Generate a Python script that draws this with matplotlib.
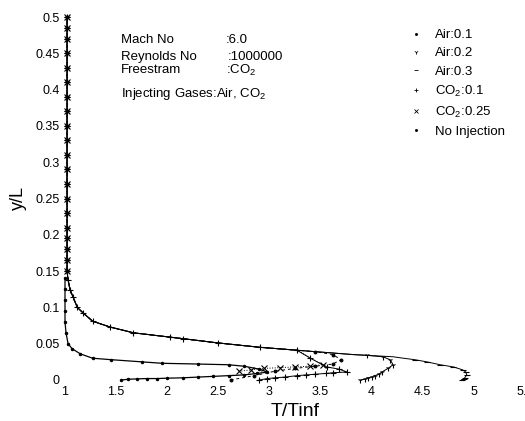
import numpy as np
import matplotlib
matplotlib.use('Agg')
import matplotlib.pyplot as plt
from matplotlib.lines import Line2D

plt.rcParams['font.family'] = ['Liberation Sans', 'DejaVu Sans']
plt.rcParams['mathtext.fontset'] = 'custom'
plt.rcParams['mathtext.rm'] = 'Liberation Sans'
plt.rcParams['mathtext.it'] = 'Liberation Sans:italic'

# outer part of the layer, shared by the injected cases
outer_T = [4.31, 4.21, 3.82, 3.27, 2.91, 2.50, 2.15, 2.03, 1.67, 1.44, 1.27, 1.18, 1.12, 1.08, 1.05, 1.03]
outer_y = [0.030, 0.032, 0.035, 0.041, 0.045, 0.051, 0.057, 0.059, 0.065, 0.073, 0.081, 0.092, 0.100, 0.114, 0.124, 0.138]

# free stream column
fs_T = 1.02
fs_y = [0.15, 0.165, 0.18, 0.195, 0.21, 0.23, 0.25, 0.27, 0.29, 0.31, 0.33, 0.35, 0.37,
        0.39, 0.41, 0.43, 0.45, 0.47, 0.485, 0.5]

# near wall parts
air01_T = [2.62, 2.85, 3.05, 3.25, 3.45, 3.62, 3.70, 3.62, 3.45]
air01_y = [0.0, 0.006, 0.012, 0.016, 0.019, 0.022, 0.028, 0.035, 0.039]
air02_T = [3.89, 3.93, 3.96, 4.00, 4.03, 4.07, 4.10, 4.16, 4.21, 4.18, 4.11, 3.95]
air02_y = [0.0, 0.001, 0.003, 0.004, 0.006, 0.008, 0.011, 0.016, 0.021, 0.028, 0.032, 0.034]
air03_T = [4.88, 4.90, 4.91, 4.93, 4.92, 4.89, 4.80, 4.67, 4.54, 4.42]
air03_y = [0.0, 0.001, 0.003, 0.007, 0.011, 0.014, 0.018, 0.021, 0.025, 0.028]
co2_01_T = [2.90, 2.98, 3.05, 3.15, 3.27, 3.36, 3.45, 3.55, 3.62, 3.76, 3.68, 3.56, 3.40]
co2_01_y = [0.0, 0.002, 0.003, 0.004, 0.006, 0.007, 0.008, 0.009, 0.010, 0.011, 0.015, 0.018, 0.030]
co2_025_T = [2.70, 2.82, 2.95, 3.10, 3.25, 3.40, 3.52]
co2_025_y = [0.012, 0.014, 0.016, 0.017, 0.018, 0.019, 0.021]
noinj_T = [1.55, 1.62, 1.70, 1.80, 1.90, 2.00, 2.15, 2.30, 2.45, 2.60, 2.75, 2.88, 2.98,
           2.90, 2.75, 2.60, 2.30, 1.95, 1.75, 1.45, 1.27, 1.15, 1.07, 1.03, 1.01, 1.0,
           1.0, 1.0, 1.0, 1.0]
noinj_y = [0.0, 0.001, 0.0015, 0.002, 0.002, 0.0025, 0.003, 0.004, 0.005, 0.006, 0.007, 0.009, 0.011,
           0.015, 0.019, 0.021, 0.022, 0.023, 0.025, 0.028, 0.030, 0.036, 0.043, 0.050, 0.065, 0.08,
           0.095, 0.11, 0.125, 0.14]

labels = ['Air:0.1', 'Air:0.2', 'Air:0.3', 'CO$_2$:0.1', 'CO$_2$:0.25', 'No Injection']
markers = ['.', '1', '_', '+', 'x', '.']


def full_profile(T, y):
    # inner part, then the outer part beyond it, then free stream
    T = list(T)
    y = list(y)
    n_in = len(T)
    n_out = 0
    for t, yy in zip(outer_T, outer_y):
        if t < T[-1]:
            T.append(t)
            y.append(yy)
            n_out += 1
    T += [fs_T] * len(fs_y)
    y += fs_y
    return T, y, n_in, n_out


fig = plt.figure(figsize=(5.25, 4.21), dpi=100)
ax = fig.add_axes([65 / 525, 1 - 380 / 421, 460 / 525, 363 / 421])

series = [(air01_T, air01_y), (air02_T, air02_y), (air03_T, air03_y),
          (co2_01_T, co2_01_y), (co2_025_T, co2_025_y)]
styles = [(0, (3, 3)), '-', '-', '-', ':']
for i, ((T, y), m, ls) in enumerate(zip(series, markers[:5], styles)):
    T, y, n_in, n_out = full_profile(T, y)
    if i == 3:
        every = list(range(len(T)))
    else:
        every = list(range(n_in)) + list(range(n_in + n_out, len(T)))
    ax.plot(T, y, color='k', lw=0.7, ls=ls, marker=m, ms=4, mew=0.8, markevery=every,
            clip_on=False)
ax.plot(noinj_T, noinj_y, color='k', lw=0.9, marker='.', ms=3, clip_on=False)

ax.set_xlim(1, 5.5)
ax.set_ylim(0, 0.5)
ax.set_xticks(np.arange(1, 5.51, 0.5))
ax.set_yticks(np.arange(0, 0.501, 0.05))
ax.xaxis.set_major_formatter(plt.FuncFormatter(lambda v, p: f'{v:g}'))
ax.yaxis.set_major_formatter(plt.FuncFormatter(lambda v, p: f'{round(v, 2):g}'))
ax.tick_params(length=0, labelsize=9, pad=4)
for s in ax.spines.values():
    s.set_visible(False)

ax.set_xlabel('T/Tinf', fontsize=14, labelpad=4)
ax.set_ylabel('y/L', fontsize=13, labelpad=6)

ax.text(1.55, 0.468, 'Mach No', fontsize=9.5, va='center')
ax.text(2.575, 0.468, ':6.0', fontsize=9.5, va='center')
ax.text(1.55, 0.445, 'Reynolds No', fontsize=9.5, va='center')
ax.text(2.595, 0.445, ':1000000', fontsize=9.5, va='center')
ax.text(1.55, 0.427, 'Freestram', fontsize=9.5, va='center')
ax.text(2.575, 0.427, ':CO$_2$', fontsize=9.5, va='center')
ax.text(1.55, 0.394, 'Injecting Gases:Air, CO$_2$', fontsize=9.5, va='center')

handles = [Line2D([], [], color='k', ls='none', marker=m, ms=3, mew=0.6) for m in markers]
ax.legend(handles, labels, loc='upper left', bbox_to_anchor=(0.735, 0.985), frameon=False,
          fontsize=9.5, handlelength=1.0, handletextpad=0.9, labelspacing=0.45, borderpad=0)

fig.savefig('out.png', dpi=100)
